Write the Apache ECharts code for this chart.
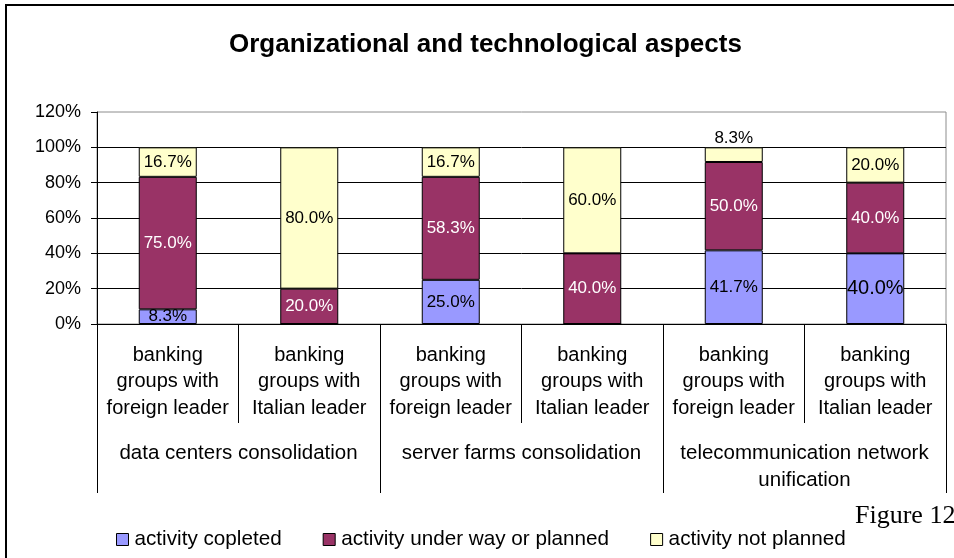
<!DOCTYPE html>
<html>
<head>
<meta charset="utf-8">
<script src="https://cdn.jsdelivr.net/npm/echarts@6/dist/echarts.min.js"></script>
<style>
  html, body { margin: 0; padding: 0; background: #fff; }
  #chart { width: 954px; height: 558px; }
</style>
</head>
<body>
<div id="chart"></div>
<script>
// Bank sub-groups (inner axis) and the activity each pair belongs to (outer axis)
const categories = [
  'banking\ngroups with\nforeign leader', 'banking\ngroups with\nItalian leader',
  'banking\ngroups with\nforeign leader', 'banking\ngroups with\nItalian leader',
  'banking\ngroups with\nforeign leader', 'banking\ngroups with\nItalian leader'
];
const groups = [
  'data centers consolidation',
  'server farms consolidation',
  'telecommunication network\nunification'
];

// Share of banks per status, in percent
const completed  = [8.3, 0, 25.0, 0, 41.7, 40.0];
const underWay   = [75.0, 20.0, 58.3, 40.0, 50.0, 40.0];
const notPlanned = [16.7, 80.0, 16.7, 60.0, 8.3, 20.0];

const seriesNames = ['activity copleted', 'activity under way or planned', 'activity not planned'];
const yTicks = [0, 20, 40, 60, 80, 100, 120];

const FONT = '"Liberation Sans", Arial, sans-serif';

function pct(p) {
  return p.value ? p.value.toFixed(1) + '%' : '';
}

// per-bar label tweaks (thin slice label above the bar, one larger label)
function withLabels(values, overrides) {
  return values.map((v, i) => overrides[i] ? { value: v, label: overrides[i] } : v);
}

const chart = echarts.init(document.getElementById('chart'), null, { renderer: 'canvas' });

const barBase = {
  type: 'bar',
  stack: 'total',
  barWidth: 58,
  xAxisIndex: 0,
  itemStyle: { borderColor: '#000', borderWidth: 1 },
  emphasis: { disabled: true }
};

chart.setOption({
  animation: false,
  backgroundColor: '#fff',
  title: {
    text: 'Organizational and technological aspects',
    left: 229,
    top: 32,
    padding: 0,
    textStyle: { fontFamily: FONT, fontSize: 26, fontWeight: 'bold', color: '#000' }
  },
  legend: {
    left: 116,
    top: 529,
    padding: 0,
    itemWidth: 12,
    itemHeight: 12,
    itemGap: 41,
    icon: 'rect',
    data: seriesNames,
    textStyle: { fontFamily: FONT, fontSize: 20.7, color: '#000', padding: [0, 0, 0, 1] },
    itemStyle: { borderColor: '#000', borderWidth: 1 }
  },
  grid: {
    left: 97,
    right: 8,
    top: 112,
    bottom: 234,
    show: true,
    borderColor: '#8c8c8c',
    borderWidth: 1,
    backgroundColor: 'transparent'
  },
  xAxis: [
    {
      type: 'category',
      data: categories,
      position: 'bottom',
      boundaryGap: true,
      axisLine: { show: true, lineStyle: { color: '#000', width: 1 } },
      axisTick: { show: true, interval: 0, length: 99, lineStyle: { color: '#000' } },
      axisLabel: {
        interval: 0,
        margin: 18,
        fontFamily: FONT,
        fontSize: 20,
        lineHeight: 26.5,
        color: '#000',
        align: 'center'
      }
    },
    {
      type: 'category',
      data: groups,
      position: 'bottom',
      offset: 0,
      gridIndex: 0,
      boundaryGap: true,
      axisLine: { show: false },
      axisTick: { show: true, interval: 0, length: 169, lineStyle: { color: '#000' } },
      axisLabel: {
        interval: 0,
        margin: 116,
        fontFamily: FONT,
        fontSize: 20.5,
        lineHeight: 27,
        color: '#000',
        align: 'center'
      }
    }
  ],
  yAxis: {
    type: 'value',
    min: yTicks[0],
    max: yTicks[yTicks.length - 1],
    interval: yTicks[1] - yTicks[0],
    axisLine: { show: true, lineStyle: { color: '#000' } },
    axisTick: { show: true, length: 6, lineStyle: { color: '#000' } },
    axisLabel: {
      formatter: '{value}%',
      margin: 16,
      fontFamily: FONT,
      fontSize: 18,
      color: '#000'
    },
    splitLine: { show: true, showMaxLine: false, lineStyle: { color: '#000', width: 1 } }
  },
  series: [
    Object.assign({}, barBase, {
      name: seriesNames[0],
      data: withLabels(completed, { 5: { fontSize: 20 } }),
      itemStyle: { color: '#9999ff', borderColor: '#000', borderWidth: 1 },
      label: { show: true, position: 'inside', formatter: pct, fontFamily: FONT, fontSize: 17, color: '#000' }
    }),
    Object.assign({}, barBase, {
      name: seriesNames[1],
      data: underWay,
      itemStyle: { color: '#993366', borderColor: '#000', borderWidth: 1 },
      label: { show: true, position: 'inside', formatter: pct, fontFamily: FONT, fontSize: 17, color: '#fff' }
    }),
    Object.assign({}, barBase, {
      name: seriesNames[2],
      data: withLabels(notPlanned, { 4: { position: 'top', distance: 1 } }),
      itemStyle: { color: '#ffffcc', borderColor: '#000', borderWidth: 1 },
      label: { show: true, position: 'inside', formatter: pct, fontFamily: FONT, fontSize: 17, color: '#000' }
    })
  ],
  graphic: [
    {
      type: 'rect',
      shape: { x: 6, y: 5, width: 1000, height: 700 },
      style: { fill: null, stroke: '#000', lineWidth: 2 },
      silent: true
    },
    {
      type: 'text',
      x: 855,
      y: 503,
      style: {
        text: 'Figure 12',
        font: '26px "Liberation Serif", "Times New Roman", serif',
        fill: '#000'
      },
      silent: true
    }
  ]
});
</script>
</body>
</html>
